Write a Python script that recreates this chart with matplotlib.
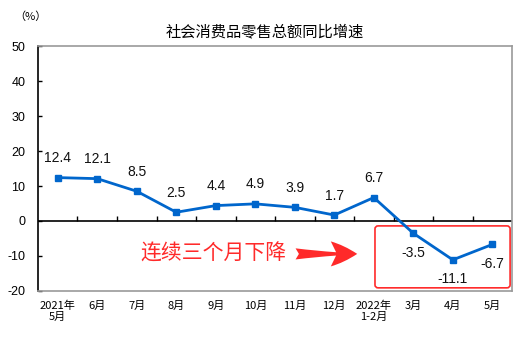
import matplotlib
matplotlib.use("Agg")
from matplotlib import pyplot as plt
from matplotlib.patches import FancyBboxPatch
import numpy as np

plt.rcParams["font.family"] = ["Liberation Sans", "Noto Sans CJK SC"]

months = ["2021年\n5月", "6月", "7月", "8月", "9月", "10月", "11月", "12月",
          "2022年\n1-2月", "3月", "4月", "5月"]
growth = [12.4, 12.1, 8.5, 2.5, 4.4, 4.9, 3.9, 1.7, 6.7, -3.5, -11.1, -6.7]
y_ticks = [-20, -10, 0, 10, 20, 30, 40, 50]

blue = "#0066cc"
red = "#ff2a2a"
gray = "#999999"

fig = plt.figure(figsize=(5.29, 3.47), dpi=100)
ax = fig.add_axes([0.0718, 0.1614, 0.8962, 0.706])

x = np.arange(len(months))
ax.plot(x, growth, color=blue, linewidth=2, marker="s", markersize=5, zorder=4)

for xi, v in zip(x, growth):
    dy = 14 if v >= 0 else -14
    ax.annotate(f"{v:.1f}", (xi, v), xytext=(0, dy), textcoords="offset points",
                ha="center", va="center", fontsize=10, color="#111111")

ax.set_xlim(-0.5, len(months) - 0.5)
ax.set_ylim(-20, 50)
ax.set_yticks(y_ticks)
ax.set_yticklabels([str(t) for t in y_ticks], fontsize=9)
ax.tick_params(axis="y", direction="in", length=3, width=1, pad=9, colors="black")
ax.set_xticks(x)
ax.set_xticklabels(months, fontsize=8, family=["Noto Sans CJK SC"], linespacing=1.05)
ax.tick_params(axis="x", length=0, pad=7)

for side in ["top", "right", "bottom"]:
    ax.spines[side].set_color(gray)
    ax.spines[side].set_linewidth(1.2)
ax.spines["left"].set_color("black")
ax.spines["left"].set_linewidth(1.2)

# zero line with small ticks between categories
ax.axhline(0, color="black", linewidth=1.2, zorder=2)
ax.vlines(x[:-1] + 0.5, 0, 1.4, color="black", linewidth=1, zorder=2)

# highlight box around the last three months
box = FancyBboxPatch((8.03, -19.1), 3.42, 17.7, boxstyle="round,pad=0,rounding_size=0.08",
                     mutation_aspect=10.8, fill=False, edgecolor=red, linewidth=1.2, zorder=3)
ax.add_patch(box)

ax.text(3.93, -9.4, "连续三个月下降", color=red, fontsize=15, ha="center", va="center",
        family=["Noto Sans CJK SC"])
ax.annotate("", xy=(7.58, -9.4), xytext=(6.02, -9.4),
            arrowprops=dict(arrowstyle="fancy,head_length=1.9,head_width=1.8,tail_width=0.8",
                            color=red, linewidth=0, shrinkA=0, shrinkB=0))

fig.text(0.5, 0.908, "社会消费品零售总额同比增速", ha="center", va="center", fontsize=11,
         family=["Noto Sans CJK SC"])
fig.text(0.057, 0.951, "（%）", ha="center", va="center", fontsize=8,
         family=["Noto Sans CJK SC"])

fig.savefig("out.png", dpi=100)
